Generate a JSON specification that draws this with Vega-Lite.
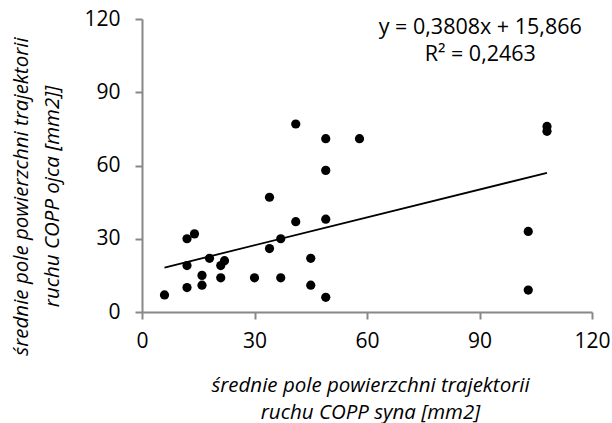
{
  "$schema": "https://vega.github.io/schema/vega-lite/v6.json",
  "autosize": "none",
  "width": 450,
  "height": 293,
  "padding": {"left": 142, "top": 19, "right": 20, "bottom": 111},
  "background": "white",
  "config": {
    "view": {"stroke": null},
    "font": "Open Sans",
    "axis": {
      "grid": false,
      "domainColor": "#888888",
      "domainWidth": 2,
      "tickColor": "#888888",
      "tickWidth": 2,
      "tickSize": 7,
      "labelFlush": false,
      "labelOverlap": false,
      "labelFont": "Open Sans",
      "labelFontSize": 21,
      "labelColor": "#000000",
      "titleFont": "Open Sans",
      "titleFontSize": 20.5,
      "titleFontStyle": "italic",
      "titleFontWeight": "normal",
      "titleColor": "#000000"
    }
  },
  "data": {
    "values": [
      {"syn": 6, "ojciec": 7},
      {"syn": 12, "ojciec": 30},
      {"syn": 14, "ojciec": 32},
      {"syn": 12, "ojciec": 19},
      {"syn": 12, "ojciec": 10},
      {"syn": 16, "ojciec": 15},
      {"syn": 16, "ojciec": 11},
      {"syn": 18, "ojciec": 22},
      {"syn": 21, "ojciec": 19},
      {"syn": 22, "ojciec": 21},
      {"syn": 21, "ojciec": 14},
      {"syn": 30, "ojciec": 14},
      {"syn": 34, "ojciec": 47},
      {"syn": 34, "ojciec": 26},
      {"syn": 37, "ojciec": 30},
      {"syn": 37, "ojciec": 14},
      {"syn": 41, "ojciec": 77},
      {"syn": 41, "ojciec": 37},
      {"syn": 45, "ojciec": 22},
      {"syn": 45, "ojciec": 11},
      {"syn": 49, "ojciec": 71},
      {"syn": 49, "ojciec": 58},
      {"syn": 49, "ojciec": 38},
      {"syn": 49, "ojciec": 6},
      {"syn": 58, "ojciec": 71},
      {"syn": 108, "ojciec": 76},
      {"syn": 108, "ojciec": 74},
      {"syn": 103, "ojciec": 33},
      {"syn": 103, "ojciec": 9}
    ]
  },
  "layer": [
    {
      "mark": {"type": "point", "filled": true, "size": 85, "opacity": 1, "color": "#000000"},
      "encoding": {
        "x": {
          "field": "syn", "type": "quantitative",
          "scale": {"domain": [0, 120], "nice": false, "zero": true},
          "axis": {
            "values": [0, 30, 60, 90, 120],
            "labelPadding": 11,
            "title": ["średnie pole powierzchni trajektorii", "ruchu COPP syna [mm2]"],
            "titleLineHeight": 27,
            "titleX": 228,
            "titleY": 79,
            "titleAlign": "center",
            "titleBaseline": "alphabetic"
          }
        },
        "y": {
          "field": "ojciec", "type": "quantitative",
          "scale": {"domain": [0, 120], "nice": false},
          "axis": {
            "values": [0, 30, 60, 90, 120],
            "labelPadding": 15,
            "title": ["średnie pole powierzchni trajektorii", "ruchu COPP ojca  [mm2]]"],
            "titleLineHeight": 31,
            "titleX": -131,
            "titleY": 177,
            "titleAngle": -90,
            "titleAlign": "center",
            "titleBaseline": "top"
          }
        }
      }
    },
    {
      "transform": [
        {"regression": "ojciec", "on": "syn", "extent": [6, 108]}
      ],
      "mark": {"type": "line", "color": "#000000", "strokeWidth": 1.8},
      "encoding": {
        "x": {"field": "syn", "type": "quantitative"},
        "y": {"field": "ojciec", "type": "quantitative"}
      }
    },
    {
      "data": {
        "values": [
          {"tx": 90.2, "ty": 116.4, "label": "y = 0,3808x + 15,866"},
          {"tx": 90.2, "ty": 105.3, "label": "R² = 0,2463"}
        ]
      },
      "mark": {"type": "text", "fontSize": 21.5, "font": "Open Sans", "color": "#000000", "align": "center", "baseline": "middle"},
      "encoding": {
        "x": {"field": "tx", "type": "quantitative"},
        "y": {"field": "ty", "type": "quantitative"},
        "text": {"field": "label"}
      }
    }
  ]
}
